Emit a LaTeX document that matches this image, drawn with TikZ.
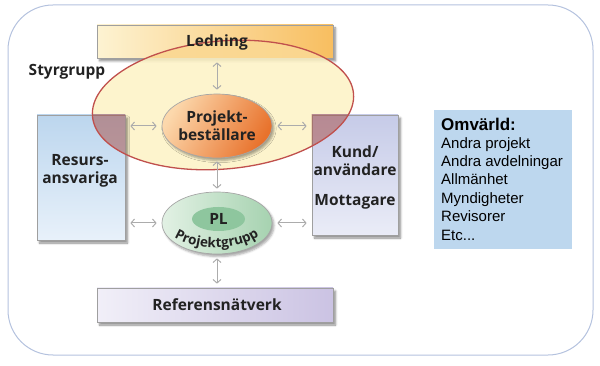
\documentclass[tikz,border=0pt]{standalone}
\usepackage{fontspec}
\setmainfont{Open Sans}
\newfontfamily\arialf{Liberation Sans}
\usetikzlibrary{shadows.blur,decorations.text,arrows.meta,shapes.geometric}
\definecolor{txt}{HTML}{222222}
\definecolor{frame}{HTML}{B4C2DE}
\definecolor{ledL}{HTML}{FDF3D2}
\definecolor{ledR}{HTML}{F8BE60}
\definecolor{styrfill}{HTML}{FDF2C4}
\definecolor{styrline}{HTML}{C0504D}
\definecolor{overlap}{HTML}{A84A40}
\definecolor{pbL}{HTML}{FCD8AC}
\definecolor{pbR}{HTML}{E8722C}
\definecolor{resT}{HTML}{BCD6EE}
\definecolor{resB}{HTML}{E8F1FA}
\definecolor{kunT}{HTML}{C6CBE8}
\definecolor{kunB}{HTML}{EAECF7}
\definecolor{refL}{HTML}{F1EFF8}
\definecolor{refR}{HTML}{CBC3E3}
\definecolor{plL}{HTML}{E2F1E4}
\definecolor{plR}{HTML}{A6D2B0}
\definecolor{plIn}{HTML}{8EC69E}
\definecolor{omv}{HTML}{BDD7EE}
\newcommand\diafont{\fontsize{15.5}{18}\selectfont\bfseries}
\newcommand\pgrfont{\fontsize{13.5}{13.5}\selectfont\bfseries}
\tikzset{
  boxbase/.style={rectangle, draw=gray!75, line width=0.7pt, inner sep=0pt,
    blur shadow={shadow xshift=2.5pt, shadow yshift=-3pt, shadow blur steps=6, shadow opacity=45}},
  lbl/.style={text=txt, font=\diafont, align=center, inner sep=0pt},
  biarrow/.style={draw=gray!65, line width=1pt, >={Straight Barb[length=3.5pt,width=8pt]}, <->},
  omvline/.style={anchor=base west, inner sep=0pt, text=black, font=\arialf\fontsize{15}{18}\selectfont},
  styrell/.style={rotate around={5:(223,105)}}
}
\begin{document}
\begin{tikzpicture}[x=1pt,y=-1pt]
\useasboundingbox (0,0) rectangle (600,366);
% outer frame
\draw[frame, line width=1pt, rounded corners=45pt] (8,5) rectangle (593,355);

% Ledning
\node[boxbase, left color=ledL, right color=ledR, minimum width=236pt, minimum height=33pt] (led) at (215,41.5) {};

% Styrgrupp ellipse fill
\fill[styrfill, fill opacity=0.85, styrell] (223,105) ellipse [x radius=131, y radius=64];
\begin{scope}
  \clip (97,25) rectangle (333,58);
  \fill[ledR, fill opacity=0.45, styrell] (223,105) ellipse [x radius=131, y radius=64];
\end{scope}

% side boxes
\node[boxbase, top color=resT, bottom color=resB, minimum width=88pt, minimum height=125pt] (res) at (81,177.5) {};
\node[boxbase, top color=kunT, bottom color=kunB, minimum width=86pt, minimum height=120pt] (kun) at (355,175) {};
\begin{scope}
  \clip (res.north west) rectangle (res.south east);
  \fill[overlap, fill opacity=0.5, styrell] (223,105) ellipse [x radius=131, y radius=64];
\end{scope}
\begin{scope}
  \clip (kun.north west) rectangle (kun.south east);
  \fill[overlap, fill opacity=0.5, styrell] (223,105) ellipse [x radius=131, y radius=64];
\end{scope}
\draw[styrline, line width=1.3pt, styrell] (223,105) ellipse [x radius=131, y radius=64];

% Referensnätverk
\node[boxbase, left color=refL, right color=refR, minimum width=236pt, minimum height=34pt] (ref) at (215,305) {};

% Projektbeställare
\node[ellipse, draw=gray!70, line width=0.7pt, left color=pbL, right color=pbR, shading angle=60,
      minimum width=110pt, minimum height=64pt, inner sep=0pt,
      blur shadow={shadow xshift=2pt, shadow yshift=-2.5pt, shadow opacity=35},
      lbl] (pb) at (217,126) {Projekt-\\beställare};

% PL / Projektgrupp
\node[ellipse, draw=gray!70, line width=0.7pt, left color=plL, right color=plR,
      minimum width=110pt, minimum height=62pt, inner sep=0pt,
      blur shadow={shadow xshift=2pt, shadow yshift=-2.5pt, shadow opacity=35}] (pl) at (217,223) {};
\node[ellipse, fill=plIn, minimum width=53pt, minimum height=24pt, inner sep=0pt, lbl] (plin) at (218.5,219) {PL};
\path[decorate, decoration={text along path, text={|\pgrfont\color{txt}|Projektgrupp}, text align=center}]
  (168,233) .. controls (192,253) and (242,253) .. (265,231);

% texts
\node[lbl] (ledt) at (217,42) {Ledning};
\node[lbl] (styr) at (67,72) {Styrgrupp};
\node[lbl] (rest) at (80,171) {Resurs-\\ansvariga};
\node[lbl] (kunt) at (355,161) {Kund/\\användare};
\node[lbl] (mott) at (355,202) {Mottagare};
\node[lbl] (reft) at (217,305) {Referensnätverk};

% arrows
\draw[biarrow, shorten <=4pt, shorten >=4pt] (led.south -| pb.north) -- (pb.north);
\draw[biarrow, shorten <=5pt, shorten >=5pt] (pb.west -| res.east) -- (pb.west);
\draw[biarrow, shorten <=5pt, shorten >=5pt] (pb.east) -- (pb.east -| kun.west);
\draw[biarrow, shorten <=3pt, shorten >=3pt] (pb.south) -- (pl.north);
\draw[biarrow, shorten <=5pt, shorten >=5pt] (pl.west -| res.east) -- (pl.west);
\draw[biarrow, shorten <=5pt, shorten >=5pt] (pl.east) -- (pl.east -| kun.west);
\draw[biarrow, shorten <=4pt, shorten >=4pt] (pl.south) -- (pl.south |- ref.north);

% Omvärld
\fill[omv] (434,110) rectangle (572,249);
\node[omvline, font=\arialf\fontsize{17}{18}\selectfont\bfseries] (o0) at (441,131) {Omvärld:};
\node[omvline] (o1) at (441,149) {Andra projekt};
\node[omvline] (o2) at (441,167) {Andra avdelningar};
\node[omvline] (o3) at (441,185) {Allmänhet};
\node[omvline] (o4) at (441,204) {Myndigheter};
\node[omvline] (o5) at (441,222) {Revisorer};
\node[omvline] (o6) at (441,241) {Etc...};
\end{tikzpicture}
\end{document}
